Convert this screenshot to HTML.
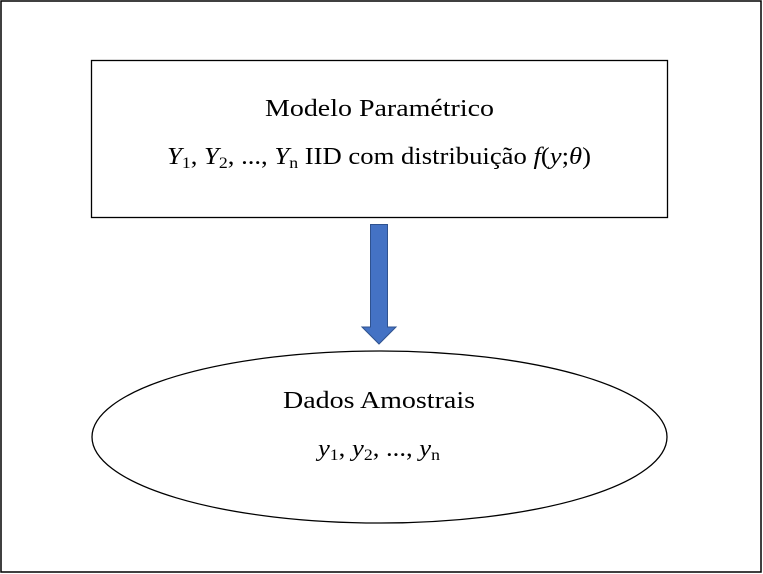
<!DOCTYPE html>
<html><head><meta charset="utf-8"><style>
body{margin:0;background:#fff;width:763px;height:574px;overflow:hidden}
svg{display:block}
text{font-family:"Liberation Serif",serif;fill:#000}
.s{font-size:16px}
</style></head><body>
<svg width="763" height="574" viewBox="0 0 763 574">
<rect x="1" y="1" width="760" height="571" fill="#fff" stroke="#000" stroke-width="1.5"/>
<rect x="91.5" y="60.5" width="576" height="157" fill="#fff" stroke="#000" stroke-width="1.3"/>
<text x="265" y="116" font-size="24" textLength="229" lengthAdjust="spacingAndGlyphs">Modelo Paramétrico</text>
<text x="167" y="164" font-size="24" textLength="424" lengthAdjust="spacingAndGlyphs"><tspan font-style="italic">Y</tspan><tspan class="s" dy="4">1</tspan><tspan dy="-4">, </tspan><tspan font-style="italic">Y</tspan><tspan class="s" dy="4">2</tspan><tspan dy="-4">, ..., </tspan><tspan font-style="italic">Y</tspan><tspan class="s" dy="4">n</tspan><tspan dy="-4"> IID com distribuição </tspan><tspan font-style="italic">f</tspan>(<tspan font-style="italic">y</tspan>;<tspan font-style="italic">θ</tspan>)</text>
<polygon points="370.5,224.5 387.5,224.5 387.5,327 396,327 379,344 362,327 370.5,327" fill="#4472C4" stroke="#2F528F" stroke-width="1"/>
<ellipse cx="379.5" cy="437" rx="287.5" ry="86" fill="#fff" stroke="#000" stroke-width="1.3"/>
<text x="283" y="408" font-size="24" textLength="192" lengthAdjust="spacingAndGlyphs">Dados Amostrais</text>
<text x="318" y="456" font-size="24" textLength="122" lengthAdjust="spacingAndGlyphs"><tspan font-style="italic">y</tspan><tspan class="s" dy="4">1</tspan><tspan dy="-4">, </tspan><tspan font-style="italic">y</tspan><tspan class="s" dy="4">2</tspan><tspan dy="-4">, ..., </tspan><tspan font-style="italic">y</tspan><tspan class="s" dy="4">n</tspan></text>
</svg>
</body></html>
